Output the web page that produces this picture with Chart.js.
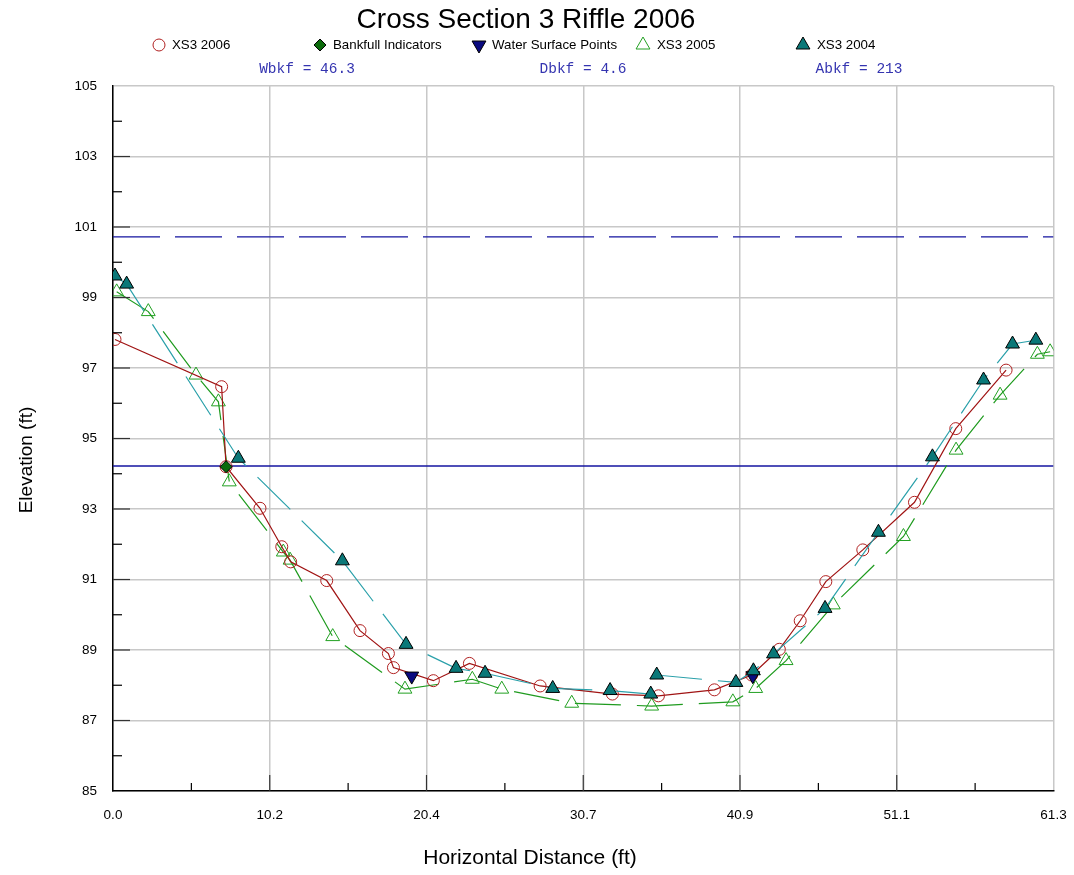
<!DOCTYPE html>
<html><head><meta charset="utf-8">
<script src="https://cdn.jsdelivr.net/npm/chart.js@4.4.0/dist/chart.umd.min.js"></script>
<style>html,body{margin:0;padding:0;background:#fff;}canvas{display:block;}</style>
</head><body>
<canvas id="c" width="1074" height="875"></canvas>
<script>
// ---------- data ----------
const xs2006 = [0.13, 7.08, 7.37, 9.58, 11.0, 11.58, 13.93, 16.1, 17.95, 18.28, 20.88, 23.23, 27.84, 32.55, 35.55, 39.2, 41.63, 43.43, 44.79, 46.46, 48.87, 52.24, 54.93, 58.21];
const ys2006 = [97.81, 96.47, 94.2, 93.02, 91.93, 91.5, 90.97, 89.55, 88.9, 88.5, 88.13, 88.62, 87.98, 87.75, 87.7, 87.87, 88.29, 89.02, 89.83, 90.94, 91.84, 93.19, 95.28, 96.94];

const xs2005 = [0.24, 2.3, 5.41, 6.87, 7.58, 11.1, 11.54, 14.32, 19.03, 23.42, 25.34, 29.9, 35.11, 40.4, 41.89, 43.87, 46.95, 51.52, 54.95, 57.82, 60.25, 61.08];
const ys2005 = [99.16, 98.6, 96.8, 96.04, 93.77, 91.78, 91.55, 89.38, 87.89, 88.17, 87.89, 87.49, 87.41, 87.53, 87.91, 88.7, 90.28, 92.22, 94.67, 96.23, 97.39, 97.46];

const xs2004 = [0.13, 0.89, 8.17, 14.95, 19.1, 22.36, 24.25, 28.66, 32.4, 35.05, 35.44, 40.6, 41.74, 43.05, 46.41, 49.89, 53.41, 56.74, 58.63, 60.15];
const ys2004 = [99.61, 99.38, 94.44, 91.53, 89.16, 88.48, 88.34, 87.91, 87.85, 87.75, 88.29, 88.08, 88.41, 88.89, 90.18, 92.34, 94.48, 96.66, 97.68, 97.79];

const bankfullX = [7.37];
const bankfullY = [94.2];
const waterX = [19.47, 41.7];
const waterY = [88.26, 88.27];

const bankfullElev = 94.22;
const floodProneElev = 100.72;

const xMin = 0, xMax = 61.3, yMin = 85, yMax = 105;
const xTickLabels = ['0.0', '10.2', '20.4', '30.7', '40.9', '51.1', '61.3'];
const yTickLabels = ['85', '87', '89', '91', '93', '95', '97', '99', '101', '103', '105'];
const legendNames = ['XS3 2006', 'Bankfull Indicators', 'Water Surface Points', 'XS3 2005', 'XS3 2004'];
const statsText = ['Wbkf = 46.3', 'Dbkf = 4.6', 'Abkf = 213'];
const chartTitle = 'Cross Section 3 Riffle 2006';
const xTitle = 'Horizontal Distance (ft)';
const yTitle = 'Elevation (ft)';

// ---------- styles ----------
const RED = '#a01414', GREEN = '#1f9b1f', TEAL_LINE = '#2aa0aa', TEAL_FILL = '#0a7878', BLUE = '#1414a0';
const sty2006 = {pointStyle: 'circle', radius: 6, backgroundColor: 'rgba(0,0,0,0)', borderColor: '#b02020', borderWidth: 1, rotation: 0};
const sty2005 = {pointStyle: 'triangle', radius: 8, backgroundColor: 'rgba(0,0,0,0)', borderColor: '#22a022', borderWidth: 1, rotation: 0};
const sty2004 = {pointStyle: 'triangle', radius: 8, backgroundColor: TEAL_FILL, borderColor: '#000', borderWidth: 1, rotation: 0};
const styBank = {pointStyle: 'rectRot', radius: 6, backgroundColor: '#0b6b0b', borderColor: '#000', borderWidth: 1, rotation: 0};
const styWater = {pointStyle: 'triangle', radius: 8, backgroundColor: '#0a0a80', borderColor: '#000', borderWidth: 1, rotation: 180};

function pts(xs, ys) { return xs.map((x, i) => ({x: x, y: ys[i]})); }
function flat(v) { return [{x: xMin, y: v}, {x: xMax, y: v}]; }
function ptOpts(s) {
  return {pointStyle: s.pointStyle, pointRadius: s.radius, pointHoverRadius: s.radius,
    pointBackgroundColor: s.backgroundColor, pointBorderColor: s.borderColor,
    pointBorderWidth: s.borderWidth, pointRotation: s.rotation};
}

const datasets = [
  Object.assign({label: legendNames[4], data: pts(xs2004, ys2004), showLine: true, borderColor: TEAL_LINE, borderWidth: 1.2, borderDash: [46, 16], order: 1}, ptOpts(sty2004)),
  Object.assign({label: legendNames[1], data: pts(bankfullX, bankfullY), showLine: false, order: 0}, ptOpts(styBank)),
  Object.assign({label: legendNames[2], data: pts(waterX, waterY), showLine: false, order: 2}, ptOpts(styWater)),
  Object.assign({label: legendNames[0], data: pts(xs2006, ys2006), showLine: true, borderColor: RED, borderWidth: 1.2, order: 3}, ptOpts(sty2006)),
  Object.assign({label: legendNames[3], data: pts(xs2005, ys2005), showLine: true, borderColor: GREEN, borderWidth: 1.2, borderDash: [46, 16], order: 4}, ptOpts(sty2005)),
  {label: 'bankfull', data: flat(bankfullElev), showLine: true, borderColor: BLUE, borderWidth: 1.3, pointRadius: 0, order: 5},
  {label: 'floodprone', data: flat(floodProneElev), showLine: true, borderColor: BLUE, borderWidth: 1.3, borderDash: [47, 15], pointRadius: 0, order: 6}
];

// ---------- decorations ----------
const decor = {
  id: 'decor',
  afterDraw(chart) {
    const ctx = chart.ctx, a = chart.chartArea, xs = chart.scales.x, ys = chart.scales.y;
    ctx.save();
    // inner tick marks
    ctx.lineWidth = 1.2;
    for (let v = yMin + 1; v < yMax; v++) {
      const py = ys.getPixelForValue(v);
      const major = (v - yMin) % 2 === 0;
      ctx.strokeStyle = major ? '#333' : '#000';
      ctx.beginPath(); ctx.moveTo(a.left, py); ctx.lineTo(a.left + (major ? 17 : 9), py); ctx.stroke();
    }
    const step = (xMax - xMin) / (xTickLabels.length - 1);
    for (let i = 0; i < xTickLabels.length; i++) {
      const v = xMin + i * step;
      if (i > 0 && i < xTickLabels.length - 1) {
        const px = xs.getPixelForValue(v);
        ctx.strokeStyle = '#333';
        ctx.beginPath(); ctx.moveTo(px, a.bottom); ctx.lineTo(px, a.bottom - 16); ctx.stroke();
      }
      if (i < xTickLabels.length - 1) {
        const pm = xs.getPixelForValue(v + step / 2);
        ctx.strokeStyle = '#000';
        ctx.beginPath(); ctx.moveTo(pm, a.bottom); ctx.lineTo(pm, a.bottom - 8); ctx.stroke();
      }
    }
    // title
    ctx.fillStyle = '#000';
    ctx.textAlign = 'center'; ctx.textBaseline = 'middle';
    ctx.font = '28px "Liberation Sans", Arial, sans-serif';
    ctx.fillText(chartTitle, 526, 20);
    // legend
    const legMarkers = [[sty2006, 159], [styBank, 320], [styWater, 479], [sty2005, 643], [sty2004, 803]];
    const legText = [172, 333, 492, 657, 817];
    ctx.font = '13.3px "Liberation Sans", Arial, sans-serif';
    ctx.textAlign = 'left';
    legMarkers.forEach((m, k) => {
      const s = m[0];
      ctx.fillStyle = s.backgroundColor;
      ctx.strokeStyle = s.borderColor;
      ctx.lineWidth = s.borderWidth;
      ctx.setLineDash([]);
      Chart.helpers.drawPoint(ctx, s, m[1], 45);
      ctx.fillStyle = '#000';
      ctx.fillText(legendNames[k], legText[k], 45);
    });
    // stats
    ctx.font = '14.5px "Liberation Mono", "Courier New", monospace';
    ctx.fillStyle = '#3434b0';
    ctx.textAlign = 'center';
    const statX = [307, 583, 859];
    statsText.forEach((t, i) => ctx.fillText(t, statX[i], 69));
    // axis titles
    ctx.fillStyle = '#000';
    ctx.font = '21px "Liberation Sans", Arial, sans-serif';
    ctx.fillText(xTitle, 530, 858);
    ctx.font = '19px "Liberation Sans", Arial, sans-serif';
    ctx.translate(27, 460); ctx.rotate(-Math.PI / 2);
    ctx.fillText(yTitle, 0, 0);
    ctx.restore();
  }
};

new Chart(document.getElementById('c'), {
  type: 'scatter',
  data: {datasets: datasets},
  options: {
    responsive: false,
    animation: false,
    events: [],
    layout: {padding: {top: 86, right: 20.5, bottom: 0, left: 0}},
    plugins: {legend: {display: false}, tooltip: {enabled: false}, title: {display: false}},
    scales: {
      x: {
        type: 'linear', min: xMin, max: xMax,
        afterFit(s) { s.height = 84; s.paddingLeft = 0; s.paddingRight = 0; },
        afterBuildTicks(s) {
          const step = (xMax - xMin) / (xTickLabels.length - 1);
          s.ticks = xTickLabels.map((l, i) => ({value: xMin + i * step}));
        },
        ticks: {
          autoSkip: false, maxRotation: 0, padding: 16, color: '#000',
          font: {family: '"Liberation Sans", Arial, sans-serif', size: 13.5},
          callback: (v, i) => xTickLabels[i]
        },
        grid: {color: '#c8c8c8', lineWidth: 1.5, drawTicks: false},
        border: {display: true, color: '#000', width: 1.5}
      },
      y: {
        type: 'linear', min: yMin, max: yMax,
        afterFit(s) { s.width = 113; s.paddingTop = 0; s.paddingBottom = 0; },
        afterBuildTicks(s) {
          s.ticks = yTickLabels.map((l) => ({value: Number(l)}));
        },
        ticks: {
          autoSkip: false, padding: 16, color: '#000',
          font: {family: '"Liberation Sans", Arial, sans-serif', size: 13.5},
          callback: (v, i) => yTickLabels[i]
        },
        grid: {color: '#c8c8c8', lineWidth: 1.5, drawTicks: false},
        border: {display: true, color: '#000', width: 1.5}
      }
    }
  },
  plugins: [decor]
});
</script>
</body></html>
